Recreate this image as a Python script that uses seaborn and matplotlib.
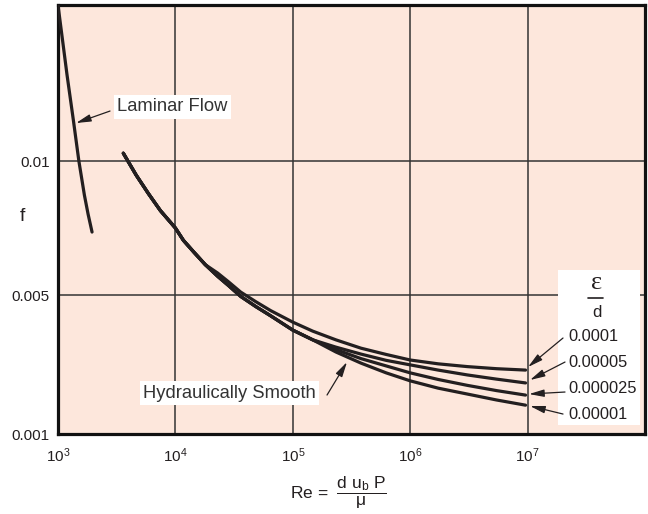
import numpy as np
import pandas as pd
import matplotlib
matplotlib.use("Agg")
import matplotlib.pyplot as plt
import seaborn as sns
from matplotlib.patches import Rectangle
from matplotlib.ticker import NullLocator

# laminar branch
re_lam = [1000, 1194, 1351, 1506, 1678, 1804, 1950]
f_lam = [0.0160, 0.01331, 0.01158, 0.0100, 0.00873, 0.00802, 0.00735]

# turbulent branch, one series per roughness
re_turb = [3600, 4640, 5880, 7450, 10000, 11700, 14300, 18000, 22900, 28400,
           36000, 48300, 64900, 100000, 148000, 233000, 381000, 624000,
           1000000, 1730000, 3070000, 5430000, 9600000]
f_0001 = [0.0103, 0.00947, 0.00879, 0.00815, 0.0075, 0.00704, 0.00661, 0.00613,
          0.00582, 0.00549, 0.00511, 0.00481, 0.00455, 0.00422, 0.00396,
          0.00371, 0.00347, 0.00329, 0.00313, 0.00302, 0.00294, 0.00288, 0.00284]
f_00005 = [0.0103, 0.00947, 0.00879, 0.00815, 0.0075, 0.00704, 0.00661, 0.00613,
           0.0057, 0.00535, 0.00496, 0.00467, 0.0044, 0.00399, 0.00371,
           0.0035, 0.0033, 0.00312, 0.00299, 0.00284, 0.0027, 0.00258, 0.00247]
f_000025 = [0.0103, 0.00947, 0.00879, 0.00815, 0.0075, 0.00704, 0.00661, 0.00613,
            0.0057, 0.00535, 0.00496, 0.00467, 0.0044, 0.00399, 0.00371,
            0.00343, 0.00317, 0.00296, 0.00276, 0.00257, 0.0024, 0.00225, 0.00212]
f_00001 = [0.0103, 0.00947, 0.00879, 0.00815, 0.0075, 0.00704, 0.00661, 0.00613,
           0.0057, 0.00535, 0.00496, 0.00467, 0.0044, 0.00399, 0.00371,
           0.00336, 0.00304, 0.00276, 0.00253, 0.00232, 0.00215, 0.00198, 0.00183]
rough_labels = ["0.0001", "0.00005", "0.000025", "0.00001"]

x_ticks = [1e3, 1e4, 1e5, 1e6, 1e7]
y_ticks = [0.001, 0.005, 0.01]
y_tick_labels = ["0.001", "0.005", "0.01"]

turb = pd.DataFrame({
    "Re": re_turb * 4,
    "f": f_0001 + f_00005 + f_000025 + f_00001,
    "eps": np.repeat(rough_labels, len(re_turb)),
})
lam = pd.DataFrame({"Re": re_lam, "f": f_lam})

sns.set_style("white")
plt.rcParams["font.family"] = ["Liberation Sans", "DejaVu Sans"]
plt.rcParams["mathtext.fontset"] = "custom"
plt.rcParams["mathtext.rm"] = "Liberation Sans"
plt.rcParams["mathtext.it"] = "Liberation Sans"
plt.rcParams["mathtext.bf"] = "Liberation Sans:bold"

ink = "#231f20"

fig = plt.figure(figsize=(6.48, 5.14), dpi=100)
ax = fig.add_axes([0.0895, 0.1556, 0.9059, 0.8346])
ax.set_facecolor("#fde7dc")

sns.lineplot(data=turb, x="Re", y="f", hue="eps", palette=[ink] * 4,
             estimator=None, sort=False, legend=False, lw=2.3, ax=ax, zorder=3)
sns.lineplot(data=lam, x="Re", y="f", color=ink, estimator=None, sort=False,
             lw=2.3, ax=ax, zorder=3)
for ln in ax.lines:
    ln.set_solid_joinstyle("round")

# schematic y axis: equal-ish spacing between the labelled values
kf = [0.0, 0.001, 0.005, 0.01, 0.016, 1.0]
kp = [-34.75, 0.0, 139.0, 273.0, 429.0, 429.0 + 0.984 * 26000]
ax.set_xscale("log")
ax.set_yscale("function", functions=(lambda v: np.interp(v, kf, kp),
                                     lambda p: np.interp(p, kp, kf)))
ax.set_xlim(1e3, 1e8)
ax.set_ylim(0.001, 0.016)

ax.set_xticks(x_ticks)
ax.set_xticklabels([f"$10^{{{int(np.log10(t))}}}$" for t in x_ticks])
ax.xaxis.set_minor_locator(NullLocator())
ax.set_yticks(y_ticks)
ax.set_yticklabels(y_tick_labels)
ax.yaxis.set_minor_locator(NullLocator())
ax.tick_params(axis="x", length=0, pad=9, labelsize=11, labelcolor=ink)
ax.tick_params(axis="y", length=0, pad=6, labelsize=11, labelcolor=ink)
ax.grid(True, color="#333333", lw=1.1, zorder=1)
ax.set_axisbelow(True)
for s in ax.spines.values():
    s.set_linewidth(2.3)
    s.set_color("#111111")

ax.set_xlabel(r"Re =  $\dfrac{\mathrm{d\ u_b\ P}}{\mu}$", fontsize=12.5,
              color=ink, va="center")
ax.xaxis.set_label_coords(0.477, -0.1375)
ax.set_ylabel("f", rotation=0, fontsize=14, color=ink, va="center", ha="center")
ax.yaxis.set_label_coords(-0.0613, 0.506)

arrow = dict(arrowstyle="-|>,head_length=0.9,head_width=0.22", color=ink,
             lw=0.9, shrinkA=0, shrinkB=0)

ax.text(0.1005, 0.7634, "Laminar Flow", transform=ax.transAxes, fontsize=13.2,
        color="#333333", ha="left", va="center", zorder=5,
        bbox=dict(facecolor="white", edgecolor="none", pad=2.5))
ax.annotate("", xy=(0.0307, 0.7249), xytext=(0.0886, 0.7529),
            xycoords="axes fraction", arrowprops=arrow, zorder=5)

ax.text(0.1448, 0.0956, "Hydraulically Smooth", transform=ax.transAxes,
        fontsize=13.2, color="#333333", ha="left", va="center", zorder=5,
        bbox=dict(facecolor="white", edgecolor="none", pad=2.5))
ax.annotate("", xy=(0.4923, 0.1678), xytext=(0.4583, 0.0909),
            xycoords="axes fraction", arrowprops=arrow, zorder=5)

# roughness key
ax.add_patch(Rectangle((0.8518, 0.021), 0.1397, 0.3613, transform=ax.transAxes,
                       facecolor="white", edgecolor="none", zorder=4))
ax.text(0.9182, 0.352, "ε", transform=ax.transAxes, fontsize=19,
        family="Liberation Serif", color=ink, ha="center", va="center", zorder=5)
ax.plot([0.9029, 0.9285], [0.317, 0.317], transform=ax.transAxes, color=ink,
        lw=1.2, zorder=5)
ax.text(0.9182, 0.2844, "d", transform=ax.transAxes, fontsize=12, color=ink,
        ha="center", va="center", zorder=5)

label_y = [0.2284, 0.1678, 0.1072, 0.0466]
tails = [(0.8603, 0.2238), (0.8637, 0.1678), (0.8637, 0.0979), (0.8603, 0.0466)]
tips = [(0.8007, 0.1562), (0.8041, 0.1259), (0.8024, 0.0932), (0.8041, 0.0653)]
for lab, ly, tl, tp in zip(rough_labels, label_y, tails, tips):
    ax.text(0.8688, ly, lab, transform=ax.transAxes, fontsize=11.8, color=ink,
            ha="left", va="center", zorder=5)
    ax.annotate("", xy=tp, xytext=tl, xycoords="axes fraction",
                arrowprops=arrow, zorder=5)

fig.savefig("out.png", dpi=100)
